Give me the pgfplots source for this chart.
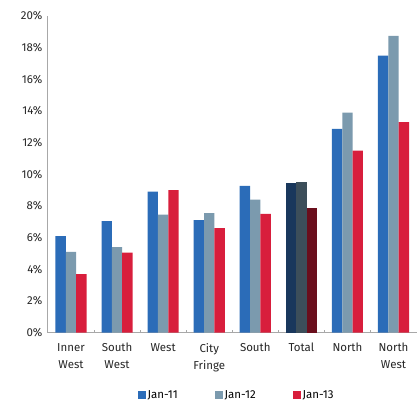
\documentclass[border=0pt]{standalone}
\usepackage{pgfplots}
\pgfplotsset{compat=1.18}
\usepackage{fontspec}
\setmainfont{Fira Sans}
\definecolor{cA}{HTML}{2B6CB8}
\definecolor{cB}{HTML}{7B9AAE}
\definecolor{cC}{HTML}{D81E3C}
\definecolor{dA}{HTML}{19375C}
\definecolor{dB}{HTML}{3C4E5A}
\definecolor{dC}{HTML}{6A0E1C}
\definecolor{axgray}{HTML}{A8A8A8}
\begin{document}
\begin{tikzpicture}
\begin{axis}[
  name=ax,
  scale only axis, width=369pt, height=317pt,
  xmin=-0.5, xmax=7.5, ymin=0, ymax=20,
  axis x line*=bottom, axis y line*=left,
  axis line style={axgray, line width=0.9pt},
  ybar, bar width=0.225,
  xtick={0,...,7},
  xticklabels={{Inner\\West},{South\\West},West,{City\\Fringe},South,Total,North,{North\\West}},
  xticklabel style={align=center, text depth=0pt, font=\fontsize{11.5}{17}\selectfont},
  x tick label style={yshift=-7pt},
  major x tick style={draw=none},
  minor xtick={0.5,1.5,...,6.5},
  minor x tick style={axgray, line width=0.8pt},
  minor tick length=3pt,
  tick align=inside,
  ytick={0,2,...,20},
  yticklabels={0\%,2\%,4\%,6\%,8\%,10\%,12\%,14\%,16\%,18\%,20\%},
  major y tick style={draw=none},
  yticklabel style={xshift=-2pt, font=\fontsize{11.5}{14}\selectfont},
  tick label style={text=black!85},
  legend style={at={(0.512,-0.197)}, anchor=center, legend columns=3, draw=none,
    font=\fontsize{11.5}{14}\selectfont, inner sep=1pt,
    /tikz/every even column/.append style={column sep=35pt}},
  legend image code/.code={\fill[#1] (0pt,-4pt) rectangle (8pt,4pt);},
]
\addplot[fill=cA, draw=none, bar shift=-0.225] coordinates {(0,6.1) (1,7.05) (2,8.9) (3,7.1) (4,9.27) (6,12.87) (7,17.5)};
\addlegendentry{Jan-11}
\addplot[fill=cB, draw=none, bar shift=0] coordinates {(0,5.1) (1,5.4) (2,7.45) (3,7.55) (4,8.4) (6,13.9) (7,18.75)};
\addlegendentry{Jan-12}
\addplot[fill=cC, draw=none, bar shift=0.225] coordinates {(0,3.7) (1,5.05) (2,9.0) (3,6.6) (4,7.5) (6,11.5) (7,13.3)};
\addlegendentry{Jan-13}
\addplot[fill=dA, draw=none, bar shift=-0.225, forget plot] coordinates {(5,9.46)};
\addplot[fill=dB, draw=none, bar shift=0, forget plot] coordinates {(5,9.5)};
\addplot[fill=dC, draw=none, bar shift=0.225, forget plot] coordinates {(5,7.9)};
\end{axis}
\path (ax.south west) ++(-48pt,-70pt) rectangle ++(417pt,403pt);
\end{tikzpicture}
\end{document}
